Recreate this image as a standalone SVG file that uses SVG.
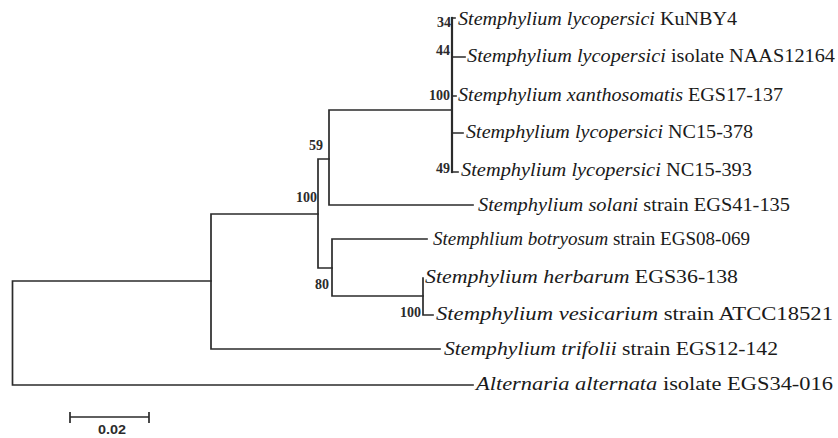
<svg xmlns="http://www.w3.org/2000/svg" width="838" height="438" viewBox="0 0 838 438">
  <style>
    .br { fill: none; stroke: #2b2b2b; stroke-width: 1.7; stroke-linecap: square; }
    .tip { font-family: "Liberation Serif", "Times New Roman", serif; font-size: 18px; fill: #1a1a1a; }
    .sp { font-style: italic; }
    .bs { font-family: "Liberation Serif", "Times New Roman", serif; font-size: 14px; font-weight: bold; fill: #2b2b2b; text-anchor: end; }
    .scale { font-family: "Liberation Sans", Arial, sans-serif; font-size: 12px; font-weight: bold; fill: #2b2b2b; }
  </style>
  <rect width="838" height="438" fill="#ffffff"/>

  <!-- tree branches -->
  <g id="connectors">
    <!-- root -->
    <path class="br" d="M211,281 H12.5 V385 H473"/>
    <!-- Stemphylium clade -->
    <path class="br" d="M440,349 H211 V214 H318"/>
    <path class="br" d="M329,159 H318 V268 H332"/>
    <path class="br" d="M473,205 H329 V110 H452"/>
    <!-- lycopersici / xanthosomatis polytomy -->
    <path class="br" d="M452,18 V172" style="stroke-width:2.2"/>
    <path class="br" d="M452,18 H455 M452,57 H465 M452,96 H456 M452,133 H463 M452,172 H458"/>
    <!-- botryosum / herbarum / vesicarium -->
    <path class="br" d="M427,239 H332 V296 H423"/>
    <path class="br" d="M423,278 V315 H433"/>
  </g>

  <!-- bootstrap support values -->
  <g id="support">
    <text class="bs" x="451" y="27">34</text>
    <text class="bs" x="450" y="55">44</text>
    <text class="bs" x="450" y="100">100</text>
    <text class="bs" x="450" y="173">49</text>
    <text class="bs" x="323" y="150">59</text>
    <text class="bs" x="317" y="202">100</text>
    <text class="bs" x="329" y="289">80</text>
    <text class="bs" x="421" y="317">100</text>
  </g>

  <!-- taxa -->
  <g id="kunby4"><text class="tip" x="458" y="25" textLength="279" lengthAdjust="spacingAndGlyphs"><tspan class="sp">Stemphylium lycopersici</tspan> KuNBY4</text></g>
  <g id="naas12164"><text class="tip" x="467" y="62" textLength="368" lengthAdjust="spacingAndGlyphs"><tspan class="sp">Stemphylium lycopersici</tspan> isolate NAAS12164</text></g>
  <g id="egs17-137"><text class="tip" x="458" y="101" textLength="325" lengthAdjust="spacingAndGlyphs"><tspan class="sp">Stemphylium xanthosomatis</tspan> EGS17-137</text></g>
  <g id="nc15-378"><text class="tip" x="466" y="138" textLength="287" lengthAdjust="spacingAndGlyphs"><tspan class="sp">Stemphylium lycopersici</tspan> NC15-378</text></g>
  <g id="nc15-393"><text class="tip" x="461" y="176" textLength="291" lengthAdjust="spacingAndGlyphs"><tspan class="sp">Stemphylium lycopersici</tspan> NC15-393</text></g>
  <g id="egs41-135"><text class="tip" x="478" y="211" textLength="312" lengthAdjust="spacingAndGlyphs"><tspan class="sp">Stemphylium solani</tspan> strain EGS41-135</text></g>
  <g id="egs08-069"><text class="tip" x="433" y="245" textLength="317" lengthAdjust="spacingAndGlyphs"><tspan class="sp">Stemphlium botryosum</tspan> strain EGS08-069</text></g>
  <g id="egs36-138"><text class="tip" x="425" y="283" textLength="313" lengthAdjust="spacingAndGlyphs"><tspan class="sp">Stemphylium herbarum</tspan> EGS36-138</text></g>
  <g id="atcc18521"><text class="tip" x="436" y="320" textLength="397" lengthAdjust="spacingAndGlyphs"><tspan class="sp">Stemphylium vesicarium</tspan> strain ATCC18521</text></g>
  <g id="egs12-142"><text class="tip" x="444" y="355" textLength="334" lengthAdjust="spacingAndGlyphs"><tspan class="sp">Stemphylium trifolii</tspan> strain EGS12-142</text></g>
  <g id="egs34-016"><text class="tip" x="476" y="390" textLength="357" lengthAdjust="spacingAndGlyphs"><tspan class="sp">Alternaria alternata</tspan> isolate EGS34-016</text></g>

  <!-- scale bar -->
  <g id="scale-bar">
    <path class="br" d="M70,417 H149 M70,412 V423 M149,412 V423" style="stroke-linecap:butt"/>
    <text class="scale" x="112" y="434" text-anchor="middle" textLength="28" lengthAdjust="spacingAndGlyphs">0.02</text>
  </g>
</svg>
